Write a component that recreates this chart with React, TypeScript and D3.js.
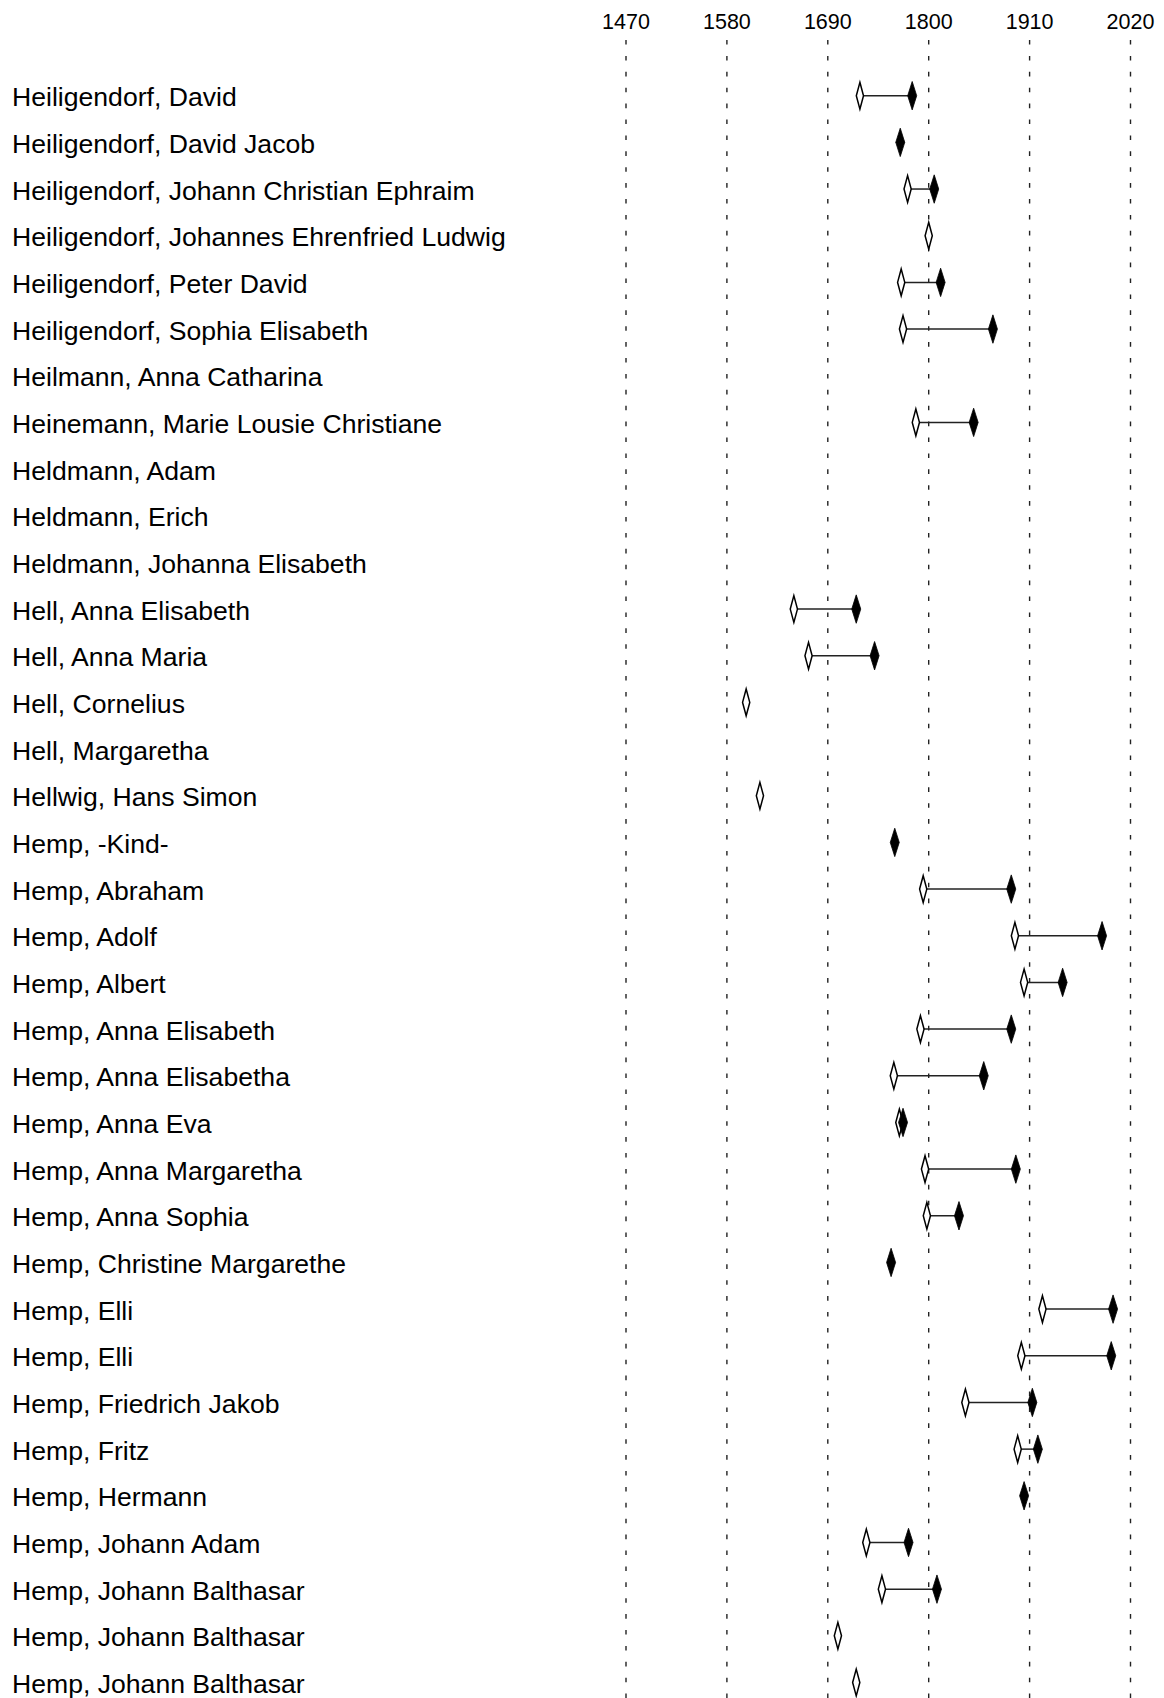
import React from "react";
import * as d3 from "d3";

const names: string[] = [
  "Heiligendorf, David",
  "Heiligendorf, David Jacob",
  "Heiligendorf, Johann Christian Ephraim",
  "Heiligendorf, Johannes Ehrenfried Ludwig",
  "Heiligendorf, Peter David",
  "Heiligendorf, Sophia Elisabeth",
  "Heilmann, Anna Catharina",
  "Heinemann, Marie Lousie Christiane",
  "Heldmann, Adam",
  "Heldmann, Erich",
  "Heldmann, Johanna Elisabeth",
  "Hell, Anna Elisabeth",
  "Hell, Anna Maria",
  "Hell, Cornelius",
  "Hell, Margaretha",
  "Hellwig, Hans Simon",
  "Hemp, -Kind-",
  "Hemp, Abraham",
  "Hemp, Adolf",
  "Hemp, Albert",
  "Hemp, Anna Elisabeth",
  "Hemp, Anna Elisabetha",
  "Hemp, Anna Eva",
  "Hemp, Anna Margaretha",
  "Hemp, Anna Sophia",
  "Hemp, Christine Margarethe",
  "Hemp, Elli",
  "Hemp, Elli",
  "Hemp, Friedrich Jakob",
  "Hemp, Fritz",
  "Hemp, Hermann",
  "Hemp, Johann Adam",
  "Hemp, Johann Balthasar",
  "Hemp, Johann Balthasar",
  "Hemp, Johann Balthasar",
];

const births: (number | null)[] = [
  1725, null, 1777, 1800, 1770, 1772, null, 1786, null, null, null, 1653, 1669, 1601, null, 1616,
  null, 1794, 1894, 1904, 1791, 1762, 1768, 1796, 1798, null, 1924, 1901, 1840, 1897, null, 1732,
  1749, 1701, 1721,
];

const deaths: (number | null)[] = [
  1782, 1769, 1806, null, 1813, 1870, null, 1849, null, null, null, 1721, 1741, null, null, null,
  1763, 1890, 1989, 1946, 1890, 1860, 1772, 1895, 1833, 1759, 2001, 1999, 1913, 1919, 1904, 1778,
  1809, null, null,
];

const tickYears: number[] = [1470, 1580, 1690, 1800, 1910, 2020];

const W = 1164;
const H = 1698;

function diamond(cx: number, cy: number, hw: number, hh: number) {
  return `M${cx},${cy - hh}L${cx + hw},${cy}L${cx},${cy + hh}L${cx - hw},${cy}Z`;
}

export default function App() {
  const x = d3.scaleLinear().domain([1470, 2020]).range([626, 1130.5]);
  const y = d3
    .scalePoint<number>()
    .domain(names.map((_, i) => i))
    .range([95.7, 95.7 + 46.67 * (names.length - 1)]);

  const font = "'Liberation Sans', Arial, Helvetica, sans-serif";

  return (
    <svg
      width={W}
      height={H}
      style={{ position: "absolute", left: 0, top: 0, background: "#fff" }}
      xmlns="http://www.w3.org/2000/svg"
    >
      <rect x={0} y={0} width={W} height={H} fill="#fff" />
      {tickYears.map((t) => (
        <g key={t}>
          <line
            x1={x(t)}
            x2={x(t)}
            y1={40}
            y2={H}
            stroke="#222"
            strokeWidth={1.4}
            strokeDasharray="4.6 11.3"
          />
          <text
            x={x(t)}
            y={28.5}
            textAnchor="middle"
            fontFamily={font}
            fontSize={21.5}
            fill="#000"
          >
            {t}
          </text>
        </g>
      ))}
      {names.map((n, i) => {
        const cy = y(i) as number;
        const b = births[i];
        const d = deaths[i];
        return (
          <g key={i}>
            <text x={12} y={cy + 10.5} fontFamily={font} fontSize={26.6} fill="#000">
              {n}
            </text>
            {b != null && d != null && (
              <line x1={x(b)} x2={x(d)} y1={cy} y2={cy} stroke="#222" strokeWidth={1.5} />
            )}
            {b != null && (
              <path d={diamond(x(b), cy, 3.6, 13.4)} fill="#fff" stroke="#000" strokeWidth={1.5} />
            )}
            {d != null && (
              <path d={diamond(x(d), cy, 4.5, 14.2)} fill="#000" stroke="#000" strokeWidth={0.8} />
            )}
          </g>
        );
      })}
    </svg>
  );
}
